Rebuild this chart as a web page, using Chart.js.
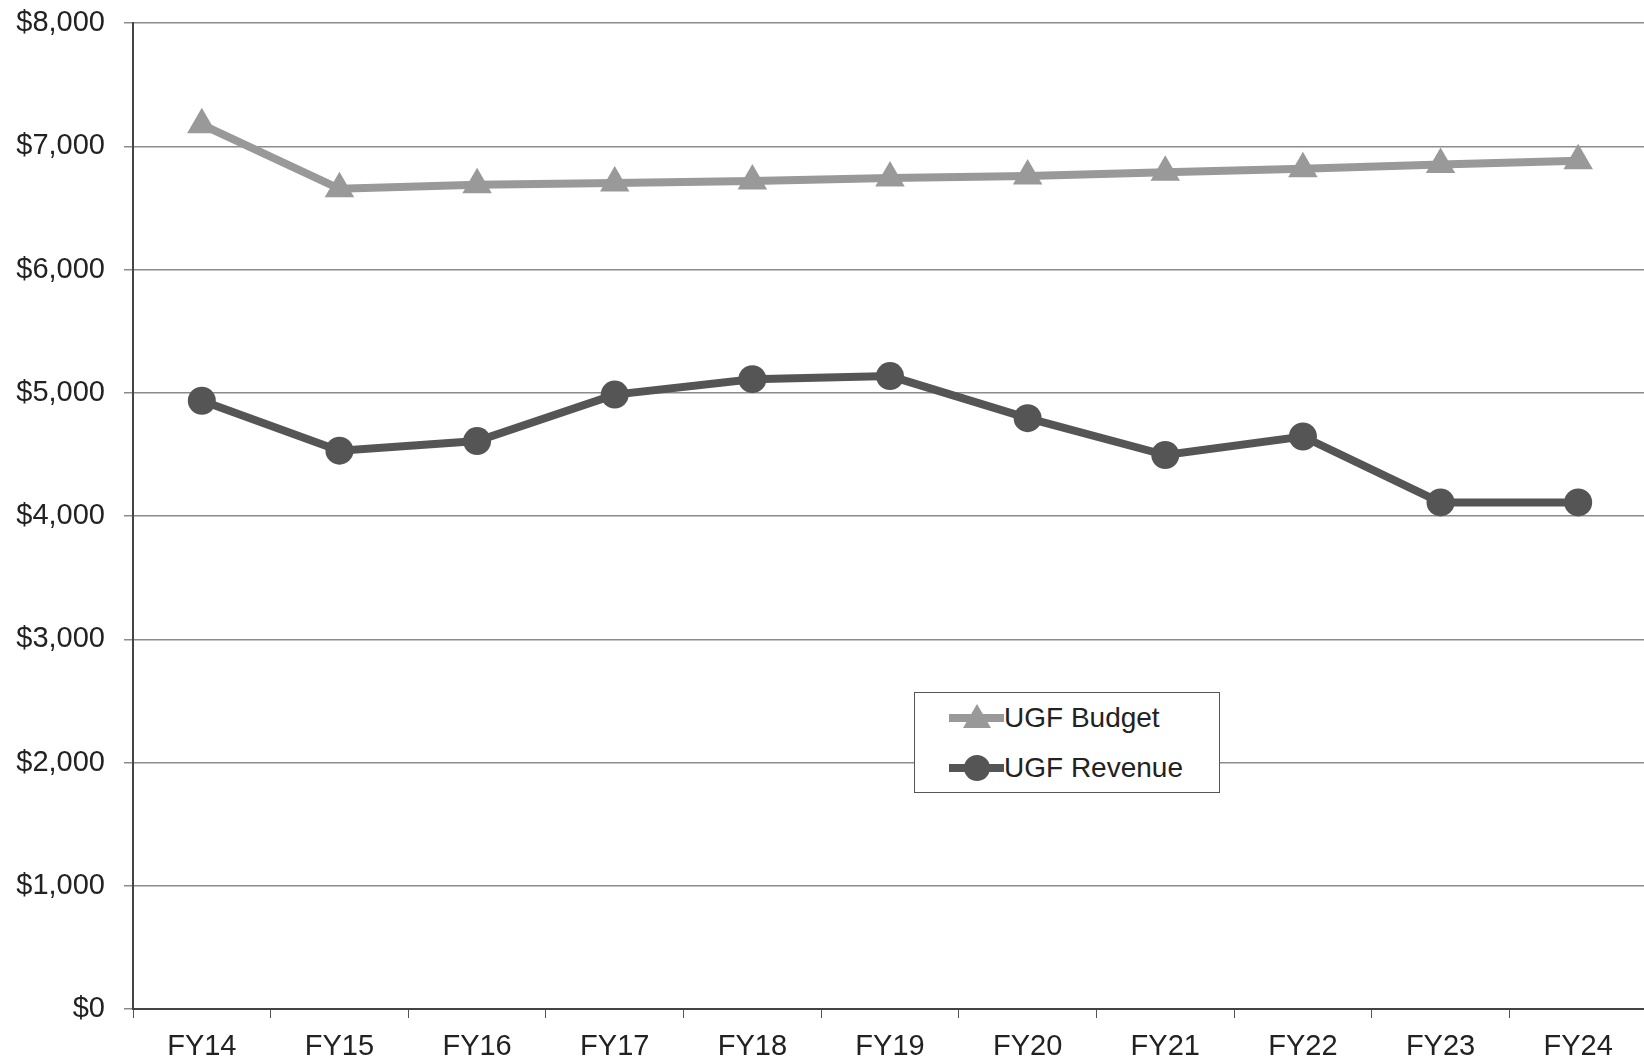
<!DOCTYPE html>
<html>
<head>
<meta charset="utf-8">
<script src="https://cdn.jsdelivr.net/npm/chart.js@4/dist/chart.umd.min.js"></script>
<style>
  html, body { margin: 0; padding: 0; background: #fff; overflow: hidden; }
  #wrap { position: relative; width: 1644px; height: 1062px; overflow: hidden; }
  #grafico { position: absolute; left: 0; top: 0; }
  #legend {
    position: absolute; left: 914px; top: 692px; width: 304px; height: 99px;
    border: 1px solid #555; background: #fff;
    font-family: "Liberation Sans", Arial, sans-serif; font-size: 28px; color: #222;
  }
  .row { position: absolute; left: 34px; height: 30px; display: flex; align-items: center; }
  .sample { position: relative; width: 55px; height: 30px; }
  .sample .ln { position: absolute; left: 0; top: 11px; width: 55px; height: 8px; }
  .tri { position: absolute; left: 14px; top: 1px; width: 0; height: 0;
    border-left: 14px solid transparent; border-right: 14px solid transparent; border-bottom: 24px solid #999; }
  .dot { position: absolute; left: 15px; top: 2px; width: 26px; height: 26px; border-radius: 50%; background: #555; }
</style>
</head>
<body>
<div id="wrap">
  <canvas id="grafico" width="1664" height="1062"></canvas>
  <div id="legend">
    <div class="row" style="top:10px"><div class="sample"><div class="ln" style="background:#999"></div><div class="tri"></div></div><span id="lbl0"></span></div>
    <div class="row" style="top:60px"><div class="sample"><div class="ln" style="background:#555"></div><div class="dot"></div></div><span id="lbl1"></span></div>
  </div>
</div>
<script>
// dados
const anos = ['FY14', 'FY15', 'FY16', 'FY17', 'FY18', 'FY19', 'FY20', 'FY21', 'FY22', 'FY23', 'FY24'];
const orcamentoUGF = [7175, 6655, 6688, 6702, 6718, 6742, 6758, 6790, 6818, 6852, 6882];
const receitaUGF = [4935, 4530, 4608, 4985, 5110, 5135, 4794, 4495, 4645, 4110, 4110];
const nomes = ['UGF Budget', 'UGF Revenue'];

document.getElementById('lbl0').textContent = nomes[0];
document.getElementById('lbl1').textContent = nomes[1];

const fonte = "'Liberation Sans', Arial, sans-serif";

const ctx = document.getElementById('grafico').getContext('2d');
window.grafico = new Chart(ctx, {
  type: 'line',
  data: {
    labels: anos,
    datasets: [
      {
        label: nomes[0],
        data: orcamentoUGF,
        borderColor: '#999999',
        backgroundColor: '#999999',
        borderWidth: 8,
        pointStyle: 'triangle',
        pointRadius: 17,
        pointBorderWidth: 0,
        tension: 0
      },
      {
        label: nomes[1],
        data: receitaUGF,
        borderColor: '#555555',
        backgroundColor: '#555555',
        borderWidth: 8,
        pointStyle: 'circle',
        pointRadius: 14,
        pointBorderWidth: 0,
        tension: 0
      }
    ]
  },
  options: {
    responsive: false,
    animation: false,
    layout: { padding: { top: 23, right: 0, left: 0, bottom: 0 } },
    plugins: {
      legend: { display: false },
      tooltip: { enabled: false }
    },
    scales: {
      x: {
        offset: true,
        grid: { drawOnChartArea: false, drawTicks: true, tickLength: 9, color: '#555', offset: true },
        border: { color: '#444', width: 2 },
        ticks: { color: '#222', font: { family: fonte, size: 29 }, padding: 12 },
        afterFit: s => { s.height = 53; }
      },
      y: {
        min: 0,
        max: 8000,
        grid: { color: '#8c8c8c', lineWidth: 1.5, tickLength: 9 },
        border: { color: '#444', width: 2 },
        ticks: {
          stepSize: 1000,
          color: '#222',
          font: { family: fonte, size: 29 },
          padding: 19,
          callback: v => '$' + v.toLocaleString('en-US')
        },
        afterFit: s => { s.width = 133; s.paddingTop = 0; s.paddingBottom = 0; }
      }
    }
  }
});
</script>
</body>
</html>
